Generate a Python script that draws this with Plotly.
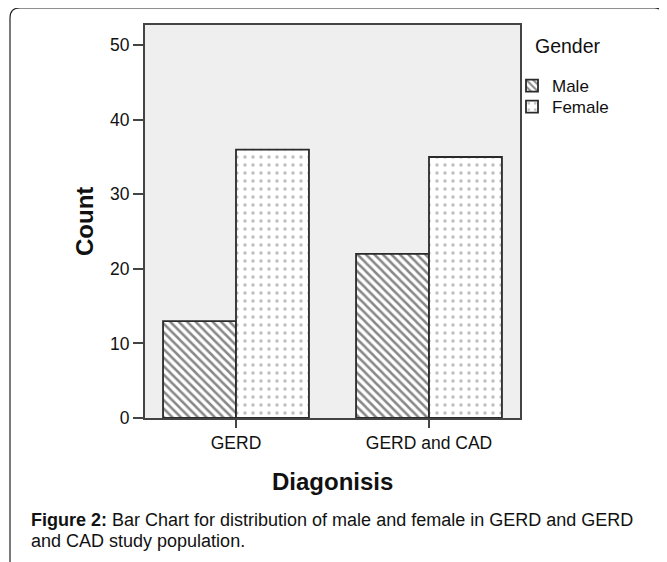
import plotly.graph_objects as go

categories = ["GERD", "GERD and CAD"]
male_counts = [13, 22]
female_counts = [36, 35]
series_names = ["Male", "Female"]
y_ticks = [0, 10, 20, 30, 40, 50]

OFF = 8  # browser body margin compensation
W, H = 667 - OFF, 562 - OFF
L, R, T, B = 145, 520, 25, 418  # plot area in reference px

def px_x(px):
    return (px - L) / (R - L)

def px_y(py):
    return (B - py) / (B - T)

FONT = "Arial, Liberation Sans, sans-serif"

fig = go.Figure()
fig.add_trace(go.Bar(
    x=categories, y=male_counts, name=series_names[0], legend="legend",
    marker=dict(color="white", line=dict(color="#2a2a2a", width=1.8),
                pattern=dict(shape="\\", fgcolor="#111111", bgcolor="white",
                             size=6, solidity=0.42)),
))
fig.add_trace(go.Bar(
    x=categories, y=female_counts, name=series_names[1], legend="legend2",
    marker=dict(color="white", line=dict(color="#2a2a2a", width=1.8),
                pattern=dict(shape=".", fgcolor="#7a7a7a", bgcolor="white",
                             size=8, solidity=0.14)),
))

# outer rounded frame
x0, x1 = px_x(10), px_x(664)
y0, y1 = px_y(575), px_y(8)
rx = 10 / (R - L)
ry = 10 / (B - T)
path = (f"M {x0},{y0} L {x0},{y1-ry} Q {x0},{y1} {x0+rx},{y1} "
        f"L {x1-rx},{y1} Q {x1},{y1} {x1},{y1-ry} L {x1},{y0}")

legend_common = dict(xanchor="left", yanchor="top", bgcolor="rgba(0,0,0,0)",
                     font=dict(size=17, family=FONT), itemwidth=30)

fig.update_layout(
    width=W, height=H,
    margin=dict(l=L - OFF, r=W - (R - OFF), t=T - OFF, b=H - (B - OFF)),
    paper_bgcolor="white", plot_bgcolor="#efefef",
    barmode="group", bargap=0.244, bargroupgap=0,
    font=dict(family=FONT, color="#111111", size=17.5),
    xaxis=dict(range=[-0.4715, 1.4715], showline=True, linecolor="#444444",
               linewidth=2, mirror=True, ticks="outside", ticklen=8,
               tickwidth=2, tickcolor="#444444", showgrid=False,
               tickfont=dict(size=17.5, family=FONT)),
    yaxis=dict(range=[0, 52.7], tickvals=y_ticks, showline=True,
               linecolor="#444444", linewidth=2, mirror=True,
               ticks="outside", ticklen=10, tickwidth=2, tickcolor="#444444",
               showgrid=False, zeroline=False,
               tickfont=dict(size=17.5, family=FONT)),
    showlegend=True,
    legend=dict(x=px_x(512), y=px_y(68), **legend_common),
    legend2=dict(x=px_x(512), y=px_y(89), **legend_common),
    shapes=[dict(type="path", path=path, xref="paper", yref="paper",
                 line=dict(color="#222222", width=1.2))],
    annotations=[
        dict(text="Gender", x=px_x(533), y=px_y(46), xref="paper", yref="paper",
             xanchor="left", yanchor="middle", showarrow=False,
             font=dict(size=19.5, family=FONT)),
        dict(text="<b>Count</b>", x=px_x(84), y=px_y(222), xref="paper",
             yref="paper", textangle=-90, showarrow=False,
             xanchor="center", yanchor="middle",
             font=dict(size=24, family=FONT)),
        dict(text="<b>Diagonisis</b>", x=px_x(332), y=px_y(481), xref="paper",
             yref="paper", showarrow=False, xanchor="center", yanchor="middle",
             font=dict(size=24, family=FONT)),
        dict(text="<b>Figure 2:</b> Bar Chart for distribution of male and female in GERD and GERD",
             x=px_x(29), y=px_y(520), xref="paper", yref="paper",
             showarrow=False, xanchor="left", yanchor="middle", align="left",
             font=dict(size=18, family=FONT)),
        dict(text="and CAD study population.",
             x=px_x(29), y=px_y(541), xref="paper", yref="paper",
             showarrow=False, xanchor="left", yanchor="middle", align="left",
             font=dict(size=18, family=FONT)),
    ],
)

fig.write_html("out.html")
